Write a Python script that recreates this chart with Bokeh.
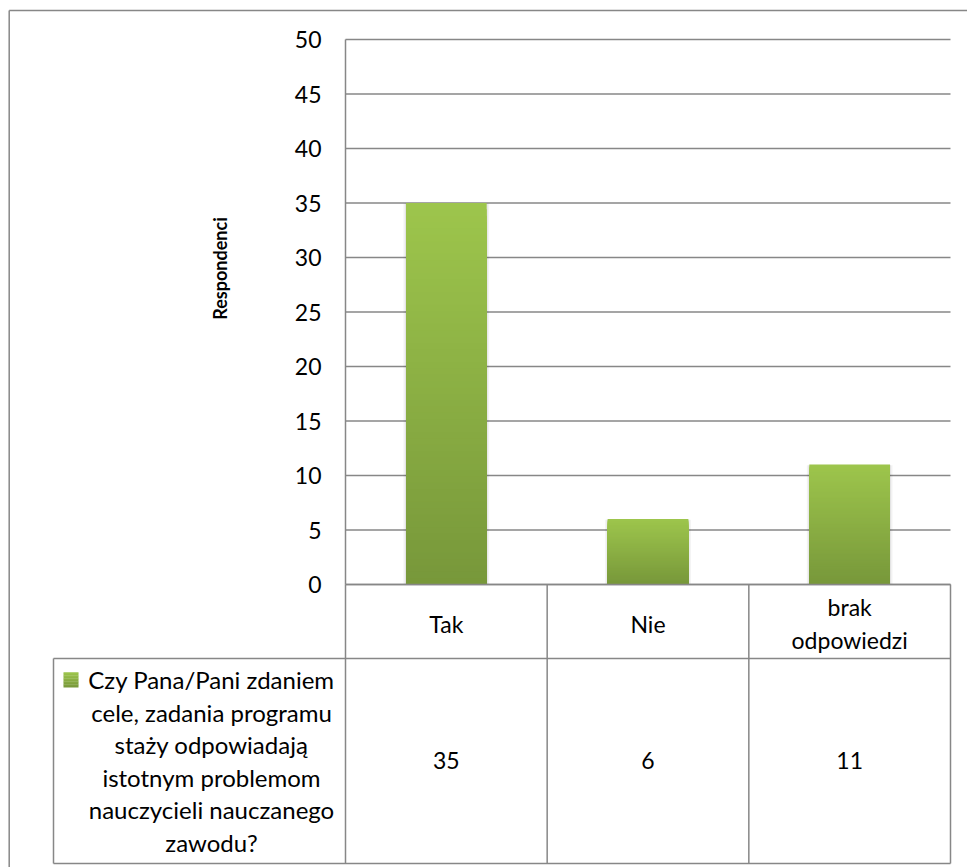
import numpy as np
from bokeh.plotting import figure
from bokeh.models import Range1d, ColumnDataSource
from bokeh.embed import file_html
from bokeh.resources import INLINE
from bokeh.core.properties import value

# ---------------- data ----------------
categories = ["Tak", "Nie", "brak odpowiedzi"]
category_lines = [["Tak"], ["Nie"], ["brak", "odpowiedzi"]]
counts = [35, 6, 11]
y_ticks = [0, 5, 10, 15, 20, 25, 30, 35, 40, 45, 50]
y_axis_title = "Respondenci"
series_lines = ["Czy Pana/Pani zdaniem", "cele, zadania programu", "staży odpowiadają",
                "istotnym problemom", "nauczycieli nauczanego", "zawodu?"]

# ---------------- style / layout (page pixels) ----------------
FONT = "Lato"
GREY = "#878787"
TOP_C = np.array([157, 197, 76])
BOT_C = np.array([119, 151, 58])
PAGE0 = 0                   # observed page origin of the canvas
W, H = 967, 867             # canvas size
BORDER_X, BORDER_Y = 8.7, 10.0
PLOT_L, PLOT_R = 345.0, 950.0
PLOT_T, PLOT_B = 39.0, 584.0
ROW_MID, ROW_BOT = 658.0, 863.0
LEG_L = 53.0
NCAT = len(categories)
COL = (PLOT_R - PLOT_L) / NCAT
YMAX = y_ticks[-1]
PXU = (PLOT_B - PLOT_T) / YMAX


def px2x(px):
    return (px - PLOT_L) / COL


def py2y(py):
    return (PLOT_B - py) / PXU


def hexc(c):
    c = np.clip(np.round(c), 0, 255).astype(int)
    return "#%02x%02x%02x" % tuple(c)


p = figure(width=W, height=H,
           x_range=Range1d(px2x(PAGE0), px2x(PAGE0 + W)),
           y_range=Range1d(py2y(PAGE0 + H), py2y(PAGE0)),
           x_axis_location=None, y_axis_location=None,
           output_backend="svg", toolbar_location=None, min_border=0)
p.outline_line_color = None
p.grid.visible = False
p.background_fill_color = "white"
p.border_fill_color = "white"

# outer chart border (left and top edges)
bx, by = px2x(BORDER_X), py2y(BORDER_Y)
p.segment(x0=[bx, bx], y0=[by, by], x1=[bx, px2x(PAGE0 + W)], y1=[py2y(PAGE0 + H), by],
          line_color=GREY, line_width=1.5)

# value grid lines (plot area)
p.segment(x0=[0] * len(y_ticks), x1=[NCAT] * len(y_ticks), y0=y_ticks, y1=y_ticks,
          line_color=GREY, line_width=1.5)
# value axis line
p.segment(x0=[0], x1=[0], y0=[0], y1=[YMAX], line_color=GREY, line_width=1.5)

# tick labels
p.text(x=[px2x(321)] * len(y_ticks), y=y_ticks, text=[str(v) for v in y_ticks],
       text_font=value(FONT), text_font_size="23px", text_align="right",
       text_baseline="middle", text_color="black")

# axis title
p.text(x=[px2x(219)], y=[py2y(268)], text=[y_axis_title], angle=np.pi / 2,
       text_font=value(FONT), text_font_size="18px", text_font_style="bold",
       text_align="center", text_baseline="middle", text_color="black")

# soft shadow behind bars
p.vbar(x=[i + 0.5 for i in range(NCAT)], top=[v - 0.05 for v in counts], bottom=0,
       width=0.425, fill_color="black", fill_alpha=0.05, line_color=None)
p.vbar(x=[i + 0.5 for i in range(NCAT)], top=[v - 0.02 for v in counts], bottom=0,
       width=0.41, fill_color="black", fill_alpha=0.06, line_color=None)

# gradient bars: nested bars from tallest (light) to shortest (dark)
N = 60
xs, tops, cols = [], [], []
for k in range(N):
    f = 1.0 - k / N
    col = hexc(BOT_C + (TOP_C - BOT_C) * f)
    for i, v in enumerate(counts):
        xs.append(i + 0.5)
        tops.append(v * f)
        cols.append(col)
p.vbar(x="x", top="top", bottom=0, width=0.40, fill_color="color", line_color=None,
       source=ColumnDataSource(dict(x=xs, top=tops, color=cols)))

# redraw baseline over the bars' bottoms
p.segment(x0=[0], x1=[NCAT], y0=[0], y1=[0], line_color=GREY, line_width=1.5)

# ---------------- data table ----------------
leg_left = px2x(LEG_L)
ym, yb = py2y(ROW_MID), py2y(ROW_BOT)
x0s = [leg_left, leg_left] + list(range(NCAT + 1)) + [leg_left]
x1s = [NCAT, NCAT] + list(range(NCAT + 1)) + [leg_left]
y0s = [ym, yb] + [0] * (NCAT + 1) + [ym]
y1s = [ym, yb] + [yb] * (NCAT + 1) + [yb]
p.segment(x0=x0s, y0=y0s, x1=x1s, y1=y1s, line_color=GREY, line_width=1.5)

# category labels
cx, cy, ct = [], [], []
for i, lines in enumerate(category_lines):
    n = len(lines)
    for j, s in enumerate(lines):
        cx.append(i + 0.5)
        cy.append(py2y(623 + (j - (n - 1) / 2.0) * 33))
        ct.append(s)
p.text(x=cx, y=cy, text=ct, text_font=value(FONT), text_font_size="23px",
       text_align="center", text_baseline="middle", text_color="black")

# values
p.text(x=[i + 0.5 for i in range(NCAT)], y=[py2y(760)] * NCAT, text=[str(v) for v in counts],
       text_font=value(FONT), text_font_size="23px", text_align="center",
       text_baseline="middle", text_color="black")

# series label lines
p.text(x=[px2x(211)] * len(series_lines),
       y=[py2y(679 + 32.5 * j) for j in range(len(series_lines))],
       text=series_lines, text_font=value(FONT), text_font_size="24px",
       text_align="center", text_baseline="middle", text_color="black")

# legend key (small gradient square)
K = 10
kq_top, kq_bot, kq_col = [], [], []
yk0, yk1 = py2y(687), py2y(672)
for k in range(K):
    f0 = k / K
    f1 = (k + 1) / K
    kq_bot.append(yk0 + (yk1 - yk0) * f0)
    kq_top.append(yk0 + (yk1 - yk0) * f1 + 0.03)
    kq_col.append(hexc(BOT_C + (TOP_C - BOT_C) * (f0 + f1) / 2))
p.quad(left=[px2x(63)] * K, right=[px2x(78)] * K, bottom=kq_bot, top=kq_top,
       fill_color=kq_col, line_color=None)

open("out.html", "w").write(file_html(p, INLINE))
